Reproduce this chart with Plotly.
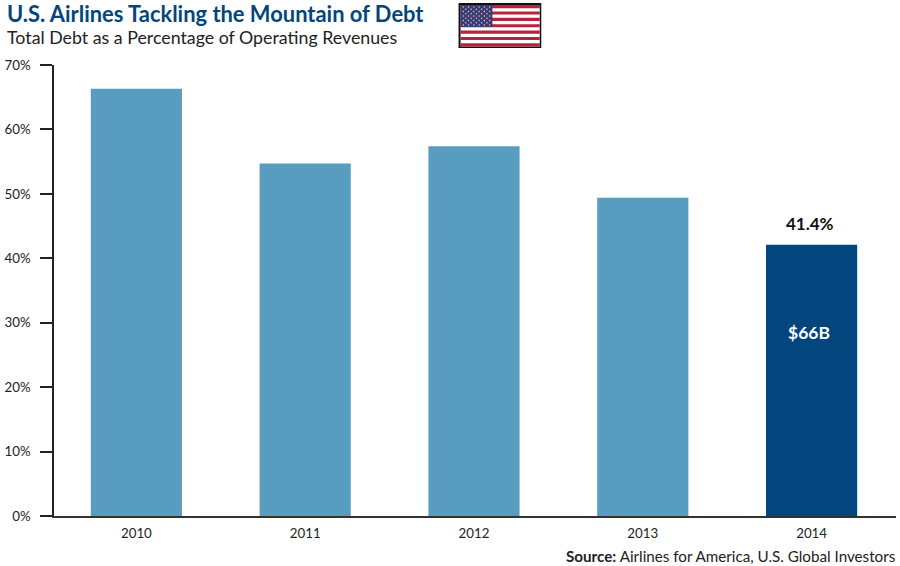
import plotly.graph_objects as go

title = "U.S. Airlines Tackling the Mountain of Debt"
subtitle = "Total Debt as a Percentage of Operating Revenues"
source_bold = "Source:"
source_rest = " Airlines for America, U.S. Global Investors"
years = ["2010", "2011", "2012", "2013", "2014"]
debt_pct = [66.3, 54.7, 57.4, 49.4, 42.1]
bar_colors = ["#589cbf", "#589cbf", "#589cbf", "#589cbf", "#03467d"]
y_ticks = [0, 10, 20, 30, 40, 50, 60, 70]
y_labels = ["0%", "10%", "20%", "30%", "40%", "50%", "60%", "70%"]
last_label = "41.4%"
inner_label = "$66B"
inner_label_y = 28.5

W, H = 900, 566
L, R, T, B = 51, 4, 65, 50
FONT = "Lato"

fig = go.Figure(go.Bar(x=years, y=debt_pct, marker=dict(color=bar_colors, line=dict(width=0)),
                       width=0.54, hoverinfo="skip", showlegend=False))


def px(x):
    return (x - L) / (W - L - R)


def py(y):
    return 1 - (y - T) / (H - T - B)


shapes = []


def rect(x0, y0, x1, y1, color):
    shapes.append(dict(type="rect", xref="paper", yref="paper", x0=px(x0), x1=px(x1),
                       y0=py(y0), y1=py(y1), fillcolor=color, line=dict(width=0), layer="above"))


# flag (decoration, pixel-placed)
rect(457, 3, 540, 48, "#111111")
rect(459, 5, 538.5, 46.5, "#ffffff")
n_stripes = 13
for i in range(0, n_stripes, 2):
    s = 41.5 / n_stripes
    rect(459, 5 + i * s, 538.5, 5 + (i + 1) * s, "#b5243a")
rect(459, 5, 491, 27, "#3c3b6e")
for r in range(9):
    cols = 6 if r % 2 == 0 else 5
    off = 0 if r % 2 == 0 else 2.6
    for c in range(cols):
        cx = 461.7 + off + c * 5.3
        cy = 7 + r * 2.25
        shapes.append(dict(type="circle", xref="paper", yref="paper",
                           x0=px(cx - 0.7), x1=px(cx + 0.7), y0=py(cy - 0.7), y1=py(cy + 0.7),
                           fillcolor="#d8d8e8", line=dict(width=0), layer="above"))

last = len(years) - 1
annotations = [
    dict(text=f"<b>{title}</b>", xref="paper", yref="paper", x=px(1.5), y=py(13), xanchor="left",
         yanchor="middle", showarrow=False, font=dict(family=FONT, size=21.9, color="#03467d")),
    dict(text=subtitle, xref="paper", yref="paper", x=px(1.5), y=py(37), xanchor="left",
         yanchor="middle", showarrow=False, font=dict(family=FONT, size=17.8, color="#222222")),
    dict(text=f"<b>{source_bold}</b>{source_rest}", xref="paper", yref="paper", x=px(897), y=py(555.5),
         xanchor="right", yanchor="middle", showarrow=False, font=dict(family=FONT, size=15.2, color="#222222")),
    dict(text=f"<b>{last_label}</b>", x=last, y=debt_pct[-1], yshift=21, xshift=-1.5, xref="x", yref="y",
         showarrow=False, font=dict(family=FONT, size=17, color="#111111")),
    dict(text=f"<b>{inner_label}</b>", x=last, y=inner_label_y, xshift=-3, xref="x", yref="y",
         showarrow=False, font=dict(family=FONT, size=17.5, color="#ffffff")),
]

fig.update_layout(
    width=W, height=H, autosize=False,
    margin=dict(l=L, r=R, t=T, b=B, pad=0),
    paper_bgcolor="white", plot_bgcolor="white",
    shapes=shapes, annotations=annotations,
    xaxis=dict(type="category", range=[-0.488, 4.5], showgrid=False, zeroline=False, ticks="", showline=True,
               linecolor="#333333", linewidth=2, tickfont=dict(family=FONT, size=13.3, color="#222222"),
               ticklabelstandoff=4),
    yaxis=dict(range=[0, 70], tickvals=y_ticks, ticktext=y_labels, showgrid=False, zeroline=False,
               ticks="outside", ticklen=12, tickwidth=1.5, tickcolor="#222222", showline=True,
               linecolor="#222222", linewidth=1.5, tickfont=dict(family=FONT, size=13.3, color="#222222"),
               ticklabelstandoff=7),
)

fig.write_html("out.html", config={"displayModeBar": False},
               post_script="document.body.style.margin='0';")
